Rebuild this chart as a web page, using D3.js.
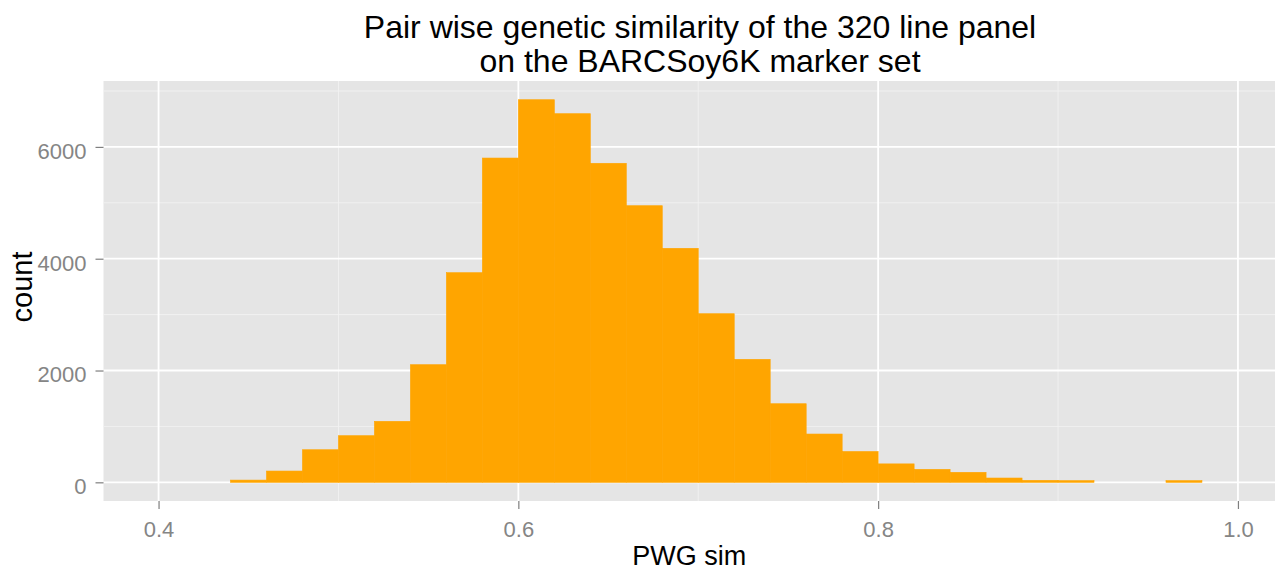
<!DOCTYPE html>
<html>
<head>
  <meta charset="UTF-8">
  <title>PWG sim histogram</title>
  <script src="https://d3js.org/d3.v7.min.js"></script>
  <style>
    body { margin: 0; background: #fff; }
    text { font-family: "Liberation Sans", Arial, sans-serif; }
  </style>
</head>
<body>
<svg></svg>
<script>
// bin edges (left) with width 0.02, and counts
const binStart = [0.44, 0.46, 0.48, 0.50, 0.52, 0.54, 0.56, 0.58, 0.60, 0.62,
                  0.64, 0.66, 0.68, 0.70, 0.72, 0.74, 0.76, 0.78, 0.80, 0.82,
                  0.84, 0.86, 0.88, 0.90, 0.92, 0.94, 0.96];
const counts = [40, 202, 583, 834, 1091, 2104, 3750, 5801, 6844, 6594,
                5707, 4948, 4186, 3016, 2200, 1406, 864, 551, 330, 232,
                179, 77, 35, 30, 0, 0, 30];
const binWidth = 0.02;
const xTicks = [0.4, 0.6, 0.8, 1.0];
const xMinor = [0.5, 0.7, 0.9];
const yTicks = [0, 2000, 4000, 6000];
const yMinor = [1000, 3000, 5000, 7000];

let width = 1280, height = 571;
let svg = d3.select("svg").attr("width", width).attr("height", height);

let panel = {left: 103.5, right: 1275, top: 81, bottom: 501};

let x = d3.scaleLinear().domain([0.3694, 1.0206]).range([panel.left, panel.right]);
let y = d3.scaleLinear().domain([-334, 7179]).range([panel.bottom, panel.top]);

svg.append("rect")
  .attr("x", panel.left).attr("y", panel.top)
  .attr("width", panel.right - panel.left).attr("height", panel.bottom - panel.top)
  .attr("fill", "#e5e5e5");

// grid
let grid = svg.append("g");
grid.selectAll(".xmin").data(xMinor).enter().append("line")
  .attr("x1", d => x(d)).attr("x2", d => x(d))
  .attr("y1", panel.top).attr("y2", panel.bottom)
  .attr("stroke", "#f2f2f2").attr("stroke-width", 0.9);
grid.selectAll(".ymin").data(yMinor).enter().append("line")
  .attr("y1", d => y(d)).attr("y2", d => y(d))
  .attr("x1", panel.left).attr("x2", panel.right)
  .attr("stroke", "#f2f2f2").attr("stroke-width", 0.9);
grid.selectAll(".xmaj").data(xTicks).enter().append("line")
  .attr("x1", d => x(d)).attr("x2", d => x(d))
  .attr("y1", panel.top).attr("y2", panel.bottom)
  .attr("stroke", "#ffffff").attr("stroke-width", 1.8);
grid.selectAll(".ymaj").data(yTicks).enter().append("line")
  .attr("y1", d => y(d)).attr("y2", d => y(d))
  .attr("x1", panel.left).attr("x2", panel.right)
  .attr("stroke", "#ffffff").attr("stroke-width", 1.8);

// bars
svg.append("g").selectAll("rect")
  .data(binStart.map((b, i) => ({b: b, c: counts[i]})).filter(d => d.c > 0))
  .enter().append("rect")
  .attr("x", d => x(d.b))
  .attr("width", d => x(d.b + binWidth) - x(d.b))
  .attr("y", d => y(d.c))
  .attr("height", d => y(0) - y(d.c))
  .attr("fill", "#ffa500")
  .attr("stroke", "#ffa500").attr("stroke-width", 0.6);

// axes
let xAxis = svg.append("g").attr("transform", "translate(0," + panel.bottom + ")")
  .call(d3.axisBottom(x).tickValues(xTicks).tickFormat(d3.format(".1f")).tickSize(8).tickPadding(12));
let yAxis = svg.append("g").attr("transform", "translate(" + panel.left + ",0)")
  .call(d3.axisLeft(y).tickValues(yTicks).tickFormat(d3.format("d")).tickSize(8).tickPadding(9));
[xAxis, yAxis].forEach(a => {
  a.select(".domain").remove();
  a.selectAll(".tick line").attr("stroke", "#7f7f7f").attr("stroke-width", 1.2);
  a.selectAll(".tick text").attr("fill", "#858585").style("font-size", "22px");
});
yAxis.selectAll(".tick text").attr("dy", "0.52em");

// labels
svg.append("text").attr("x", (panel.left + panel.right) / 2).attr("y", 565)
  .attr("text-anchor", "middle").style("font-size", "27px").text("PWG sim");
svg.append("text").attr("transform", "translate(32,287) rotate(-90)")
  .attr("text-anchor", "middle").style("font-size", "29px").text("count");

let title = svg.append("text").attr("text-anchor", "middle").style("font-size", "32px");
title.append("tspan").attr("x", 700).attr("y", 38).text("Pair wise genetic similarity of the 320 line panel");
title.append("tspan").attr("x", 700).attr("y", 72).text("on the BARCSoy6K marker set");
</script>
</body>
</html>
